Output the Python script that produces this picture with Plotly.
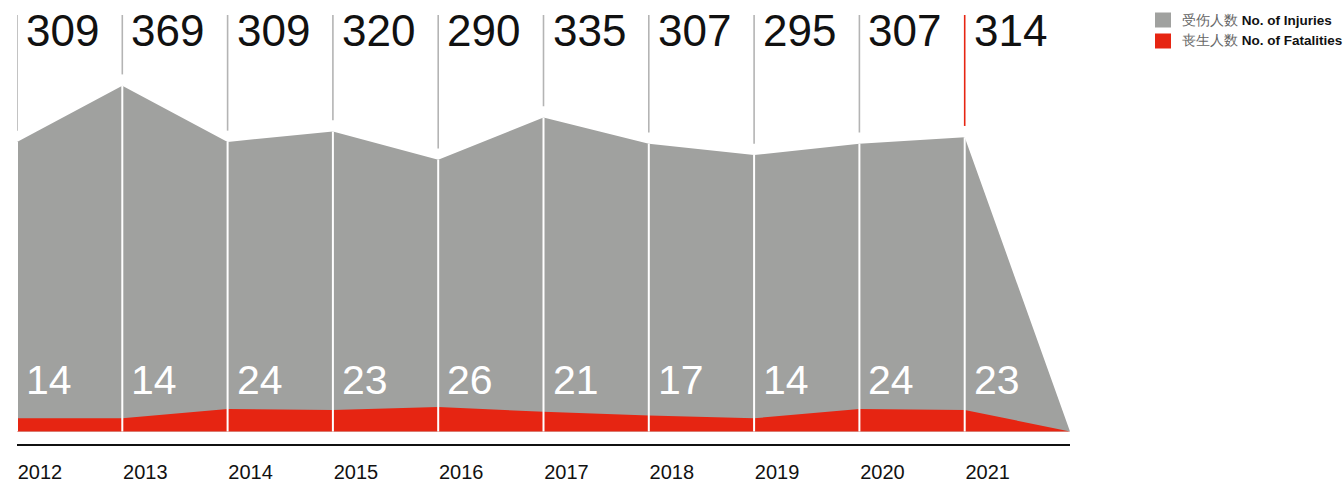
import plotly.graph_objects as go

years = ["2012", "2013", "2014", "2015", "2016", "2017", "2018", "2019", "2020", "2021"]
injuries = [309, 369, 309, 320, 290, 335, 307, 295, 307, 314]
fatalities = [14, 14, 24, 23, 26, 21, 17, 14, 24, 23]
end_value = 0  # series drop to zero after the last year

GRAY = "#a0a19f"
RED = "#e62512"
FONT = "Liberation Sans"

n = len(years)
xs = list(range(n + 1))
inj = injuries + [end_value]
fat = fatalities + [end_value]

fig = go.Figure()
fig.add_trace(go.Scatter(x=xs, y=inj, mode="lines", line=dict(width=0, color=GRAY),
                         fill="tozeroy", fillcolor=GRAY, name="受伤人数 No. of Injuries",
                         hoverinfo="skip", showlegend=False))
fig.add_trace(go.Scatter(x=xs, y=fat, mode="lines", line=dict(width=0, color=RED),
                         fill="tozeroy", fillcolor=RED, name="丧生人数 No. of Fatalities",
                         hoverinfo="skip", showlegend=False))

shapes = []
annotations = []
for i in range(n):
    shapes.append(dict(type="line", xref="x", yref="y", x0=i, x1=i, y0=0, y1=injuries[i],
                       line=dict(color="white", width=2), layer="above"))
    col = RED if i == n - 1 else "#b4b4b4"
    shapes.append(dict(type="line", xref="x", yref="y", x0=i, x1=i, y0=injuries[i] + 12,
                       y1=444.4, line=dict(color=col, width=1.6)))
    annotations.append(dict(x=i, y=0.963, xref="x", yref="paper", text=str(injuries[i]),
                            showarrow=False, xanchor="left", yanchor="middle", xshift=7,
                            font=dict(family=FONT, size=44, color="#111")))
    annotations.append(dict(x=i, y=55, xref="x", yref="y", text=str(fatalities[i]),
                            showarrow=False, xanchor="left", yanchor="middle", xshift=7,
                            font=dict(family=FONT, size=41, color="white")))

# legend (manual)
leg = [(GRAY, "受伤人数", "No. of Injuries", 20), (RED, "丧生人数", "No. of Fatalities", 41)]
for col, zh, en, ypx in leg:
    shapes.append(dict(type="rect", xref="paper", yref="paper",
                       x0=(1155 - 17) / 1053, x1=(1171 - 17) / 1053,
                       y0=(444 - ypx - 7.5) / 429, y1=(444 - ypx + 7.5) / 429,
                       fillcolor=col, line=dict(width=0)))
    annotations.append(dict(x=(1180 - 17) / 1053, y=(444 - ypx) / 429, xref="paper", yref="paper",
                            text=f"<span style='color:#666'>{zh}</span> <b>{en}</b>",
                            showarrow=False, xanchor="left", yanchor="middle",
                            font=dict(family=FONT, size=13.5, color="#111")))

fig.update_layout(
    width=1344, height=485,
    margin=dict(l=17, r=274, t=15, b=41, autoexpand=False),
    paper_bgcolor="white", plot_bgcolor="white",
    shapes=shapes, annotations=annotations,
    xaxis=dict(range=[0, n], showgrid=False, zeroline=False, showline=True,
               linecolor="#111", linewidth=2, tickvals=list(range(n)), ticktext=years,
               ticks="", ticklabelshift=23, ticklabelstandoff=9,
               tickfont=dict(family=FONT, size=20, color="#111"), fixedrange=True),
    yaxis=dict(range=[-13.4, 444.4], showgrid=False, zeroline=False, showline=False,
               showticklabels=False, ticks="", fixedrange=True),
    showlegend=False,
)

fig.write_html("out.html", config={"displayModeBar": False},
               post_script="document.body.style.margin='0';document.body.style.overflow='hidden';")
